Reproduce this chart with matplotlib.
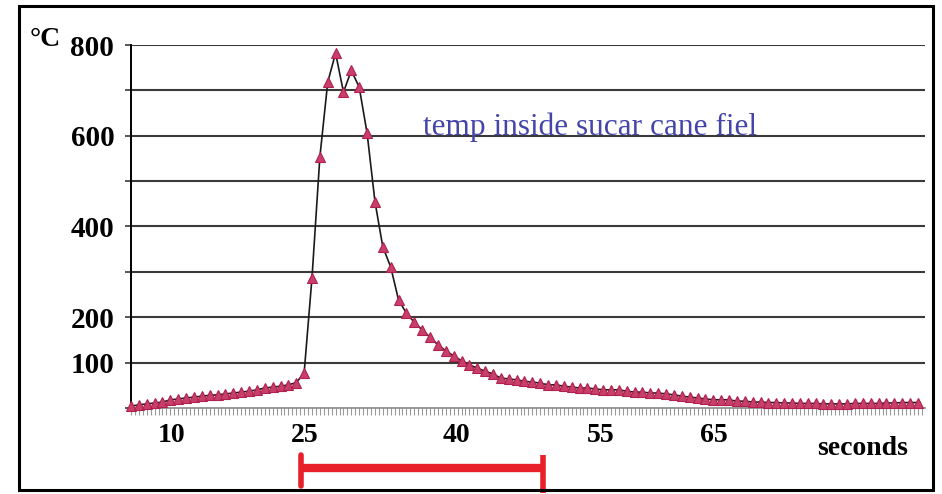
import matplotlib
matplotlib.use("Agg")
import matplotlib.pyplot as plt
from matplotlib.ticker import MultipleLocator, FixedLocator
from matplotlib.patches import Rectangle
from matplotlib.transforms import blended_transform_factory

# temperature samples (°C), one per sample index
temps = [4, 7, 9, 11, 13, 18, 20, 22, 24, 26,
         28, 29, 31, 33, 35, 37, 40, 44, 46, 48,
         51, 56, 77, 287, 553, 718, 782, 696, 744, 707,
         606, 455, 355, 311, 238, 209, 189, 172, 156, 139,
         126, 115, 104, 95, 88, 81, 75, 66, 64, 62,
         59, 57, 55, 51, 51, 48, 46, 44, 44, 42,
         40, 40, 40, 37, 35, 35, 33, 33, 31, 29,
         26, 24, 22, 20, 18, 18, 18, 15, 15, 13,
         13, 12, 12, 11, 11, 10, 10, 10, 9, 9,
         9, 9, 10, 10, 10, 10, 11, 11, 12, 12, 12]
samples = list(range(len(temps)))

# x tick labels (seconds) and the sample positions where they appear
x_tick_labels = ["10", "25", "40", "55", "65"]
x_tick_pos = [5.2, 22.1, 41.3, 59.7, 74.1]

# y ticks
y_grid = [0, 100, 200, 300, 400, 500, 600, 700, 800]
y_labels = {100: "100", 200: "200", 400: "400", 600: "600", 800: "800"}

# bracket marking the burning interval (sample positions)
bracket_start, bracket_end = 21.6, 52.3

title = "temp inside sucar cane fiel"

serif = ["Liberation Serif", "DejaVu Serif"]

fig = plt.figure(figsize=(9.42, 4.94), dpi=100)
fig.patch.set_facecolor("white")

# outer frame
fig.add_artist(Rectangle((19 / 942, 1 - 490 / 494), (933 - 19) / 942, (490 - 6) / 494,
                         transform=fig.transFigure, fill=False, edgecolor="black",
                         linewidth=2.2))

ax = fig.add_axes([131 / 942, 1 - 408 / 494, 794 / 942, 363 / 494])
ax.set_xlim(0, 100.9)
ax.set_ylim(0, 800)

# grid
for v in y_grid[1:]:
    ax.axhline(v, color="#3a3a3a", linewidth=1.5, zorder=1)

ax.plot(samples, temps, color="#1a1a1a", linewidth=1.2, zorder=3,
        marker="^", markersize=7, markerfacecolor="#c8406a",
        markeredgecolor="#b02050", markeredgewidth=0.8, clip_on=False)

# spines
for s in ["top", "right"]:
    ax.spines[s].set_visible(False)
ax.spines["left"].set_color("black")
ax.spines["left"].set_linewidth(1.4)
ax.spines["bottom"].set_color("#888888")
ax.spines["bottom"].set_linewidth(1.2)

# y ticks
ax.yaxis.set_major_locator(FixedLocator(y_grid))
ax.set_yticklabels([y_labels.get(v, "") for v in y_grid],
                   fontfamily=serif, fontweight="bold", fontsize=21)
ax.tick_params(axis="y", length=4, width=1.2, color="#3a3a3a", pad=8)

# x ticks
ax.xaxis.set_major_locator(FixedLocator(x_tick_pos))
ax.set_xticklabels(x_tick_labels, fontfamily=serif, fontweight="bold", fontsize=20)
ax.xaxis.set_minor_locator(MultipleLocator(0.5))
ax.tick_params(axis="x", which="major", length=0, pad=11)
ax.tick_params(axis="x", which="minor", length=5, width=0.8, color="#9a9a9a")

# degree label and axis unit
fig.text(30 / 942, 1 - 40 / 494, "°C", fontfamily=serif, fontweight="bold",
         fontsize=20, ha="left", va="center")
fig.text(863 / 942, 1 - 448 / 494, "seconds", fontfamily=serif, fontweight="bold",
         fontsize=20, ha="center", va="center")

# series annotation
ax.text(0.368, 0.752, title, transform=ax.transAxes, fontfamily=serif,
        fontsize=22.5, color="#4444aa", ha="left", va="baseline", zorder=4)

# red bracket
tr = blended_transform_factory(ax.transData, ax.transAxes)
red = "#e8202a"
ax.plot([bracket_start, bracket_end], [-0.165, -0.165], color=red, linewidth=6,
        transform=tr, clip_on=False, solid_capstyle="butt")
ax.plot([bracket_start, bracket_start], [-0.13, -0.215], color=red, linewidth=4,
        transform=tr, clip_on=False, solid_capstyle="round")
ax.plot([bracket_end, bracket_end], [-0.13, -0.235], color=red, linewidth=4,
        transform=tr, clip_on=False, solid_capstyle="butt")

fig.savefig("out.png", dpi=100, facecolor="white")
